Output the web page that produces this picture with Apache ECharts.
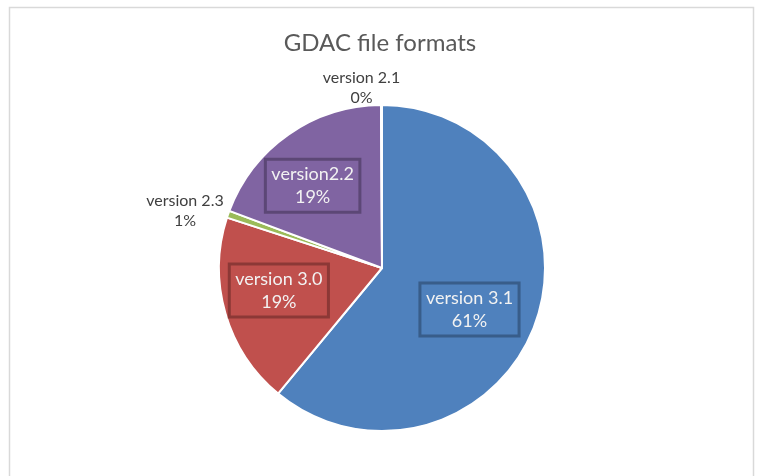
<!DOCTYPE html>
<html>
<head>
<meta charset="utf-8">
<script src="https://cdn.jsdelivr.net/npm/echarts@6/dist/echarts.min.js"></script>
<style>
html,body{margin:0;padding:0;background:#fff;}
#chart{width:760px;height:476px;}
</style>
</head>
<body>
<div id="chart"></div>
<script>
var titleText = 'GDAC file formats';
var categories = ['version 3.1', 'version 3.0', 'version 2.3', 'version2.2', 'version 2.1'];
var values = [61.0, 19.0, 0.7, 19.2, 0.1];
var colors = ['#4F81BD', '#C0504D', '#9BBB59', '#8064A2', '#4BACC6'];
var boxBorders = ['#385D8A', '#8C3836', '#71893F', '#5C4776', '#357D91'];
var insideLabel = [true, true, false, true, false];
var labelShift = [[8, 13], [-22, -1], [6, 2], [-21, -13], [15, -2]];

var chart = echarts.init(document.getElementById('chart'), null, {renderer: 'canvas'});
var FONT = 'Lato, "Open Sans", sans-serif';

var data = categories.map(function (c, i) {
  var item = {name: c, value: values[i], itemStyle: {color: colors[i]}};
  if (insideLabel[i]) {
    item.label = {
      position: 'inside',
      color: '#F2F2F2',
      fontSize: 18,
      lineHeight: 23,
      fontFamily: FONT,
      borderColor: boxBorders[i],
      borderWidth: 3,
      padding: [4, 6, 3, 6]
    };
  } else {
    item.label = {
      position: 'outside',
      color: '#404040',
      fontSize: 16,
      lineHeight: 20,
      fontFamily: FONT
    };
    item.labelLine = {show: false};
  }
  return item;
});

chart.setOption({
  backgroundColor: '#ffffff',
  animation: false,
  title: {
    text: titleText,
    left: 'center',
    top: 26,
    textStyle: {fontFamily: FONT, fontSize: 24, fontWeight: 'normal', color: '#595959'}
  },
  graphic: [{
    type: 'rect',
    shape: {x: 9.5, y: 7.5, width: 744, height: 480},
    style: {fill: 'none', stroke: '#d9d9d9', lineWidth: 1.5},
    silent: true
  }],
  series: [{
    type: 'pie',
    center: [382, 268],
    radius: 163,
    startAngle: 90,
    clockwise: true,
    percentPrecision: 0,
    avoidLabelOverlap: false,
    itemStyle: {borderColor: '#ffffff', borderWidth: 2},
    label: {show: true, formatter: '{b}\n{d}%'},
    labelLine: {show: false},
    labelLayout: function (params) {
      var i = params.dataIndex;
      var s = labelShift[i];
      var r = {dx: s[0], dy: s[1]};
      if (!insideLabel[i]) { r.align = 'center'; }
      return r;
    },
    data: data
  }]
});
</script>
</body>
</html>
